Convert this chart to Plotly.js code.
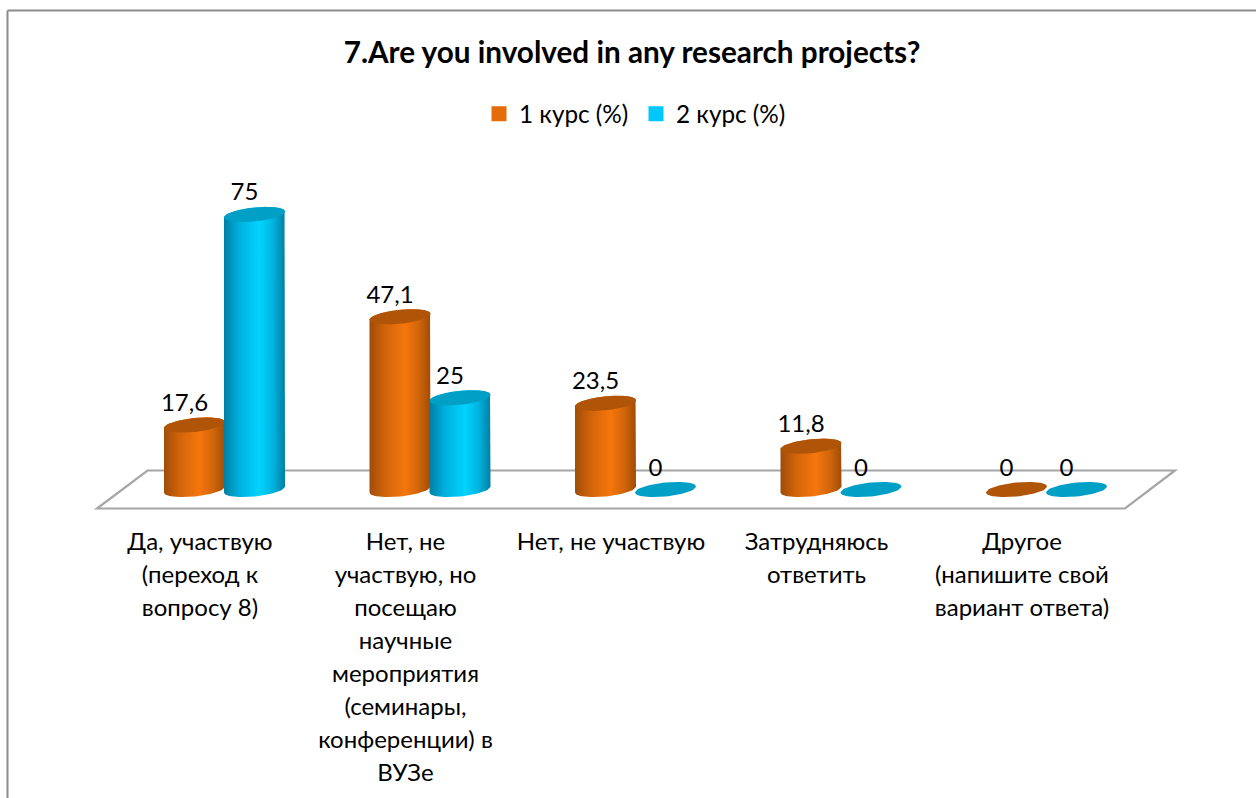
<!DOCTYPE html>
<html>
<head>
<meta charset="utf-8">
<script src="https://cdn.plot.ly/plotly-3.0.1.min.js"></script>
<style>html,body{margin:0;padding:0;background:#fff}#chart{width:1256px;height:798px}</style>
</head>
<body>
<div id="chart"></div>
<script>
const categoryLines = [
  ["Да, участвую", "(переход к", "вопросу 8)"],
  ["Нет, не", "участвую, но", "посещаю", "научные", "мероприятия", "(семинары,", "конференции) в", "ВУЗе"],
  ["Нет, не участвую"],
  ["Затрудняюсь", "ответить"],
  ["Другое", "(напишите свой", "вариант ответа)"]
];
const seriesNames = ["1 курс (%)", "2 курс (%)"];
const course1 = [17.6, 47.1, 23.5, 11.8, 0];
const course2 = [75, 25, 0, 0, 0];
const titleText = "7.Are you involved in any research projects?";

const W = 1256, H = 798, FONT = "Lato, Carlito, 'Open Sans', sans-serif";
const xUnit = 205.5, yUnit = 3.667, x0px = 224.5, y0px = 489.5, plotBottom = 510;
const pxX = p => p / xUnit, pxY = p => p / yUnit;
const rad = 30.5, minor = 7, shear = 3, barOffset = 30;
const styles = [
  {flat:"#E46C0A", top:"#B05508", scale:[[0,"#A04C08"],[0.25,"#D0640A"],[0.58,"#F6760C"],[0.8,"#D2660A"],[1,"#A04C08"]]},
  {flat:"#00C8FF", top:"#00A0C6", scale:[[0,"#007FA3"],[0.25,"#00B0DE"],[0.58,"#00D4FF"],[0.8,"#00B4E0"],[1,"#007FA3"]]}
];

function ellipse(cx, v, from, to, n) {
  const xs = [], ys = [];
  for (let i = 0; i <= n; i++) {
    const t = (from + (to - from) * i / n) * Math.PI / 180;
    xs.push(cx + pxX(rad * Math.cos(t)));
    ys.push(v + pxY(minor * Math.sin(t) + shear * Math.cos(t)));
  }
  return {xs, ys};
}

const traces = [];
const allSeries = [course1, course2];
const xPos = allSeries.map((_, s) => course1.map((_, i) => i + pxX(s === 0 ? -barOffset : barOffset)));

allSeries.forEach((vals, s) => traces.push({
  type: "bar", name: seriesNames[s], x: xPos[s], y: vals, width: pxX(46),
  marker: {color: styles[s].flat, line: {width: 3, color: styles[s].flat}}, hoverinfo: "skip"
}));

allSeries.forEach((vals, s) => vals.forEach((v, i) => {
  const cx = xPos[s][i];
  const low = ellipse(cx, 0, 180, 360, 36);
  const up = ellipse(cx, v, 0, 180, 36);
  if (v > 0) traces.push({
    type: "scatter", mode: "lines", x: low.xs.concat(up.xs), y: low.ys.concat(up.ys),
    fill: "toself", line: {width: 0, color: "rgba(0,0,0,0)"},
    fillgradient: {type: "horizontal", colorscale: styles[s].scale},
    showlegend: false, hoverinfo: "skip", cliponaxis: false
  });
  const cap = ellipse(cx, v, 0, 360, 72);
  traces.push({
    type: "scatter", mode: "lines", x: cap.xs, y: cap.ys, fill: "toself",
    fillcolor: styles[s].top, line: {width: 0, color: styles[s].top},
    showlegend: false, hoverinfo: "skip", cliponaxis: false
  });
}));

allSeries.forEach((vals, s) => traces.push({
  type: "scatter", mode: "text",
  x: xPos[s].map(x => x + pxX(-10)), y: vals.map(v => v + pxY(20)),
  text: vals.map(v => String(v).replace(".", ",")), textposition: "middle center",
  textfont: {family: FONT, size: 24, color: "#000"},
  showlegend: false, hoverinfo: "skip", cliponaxis: false
}));

const floorFront = pxY(y0px - 508.5), floorBack = pxY(y0px - 470.5);
const fx = p => (p - x0px) / xUnit;
const floorPath = "M" + fx(97) + "," + floorFront + "L" + fx(1125) + "," + floorFront +
  "L" + fx(1175) + "," + floorBack + "L" + fx(147.5) + "," + floorBack + "Z";

const paperBottom = (plotBottom - H) / plotBottom;
const layout = {
  width: W, height: H,
  margin: {l: 0, r: 0, t: 0, b: H - plotBottom, autoexpand: false},
  paper_bgcolor: "#fff", plot_bgcolor: "#fff",
  barmode: "overlay", showlegend: true,
  title: {text: "<b>" + titleText + "</b>", x: 632 / W, xanchor: "center", xref: "paper",
          y: 1 - 53 / H, yanchor: "middle", font: {family: FONT, size: 29.7, color: "#000"}},
  legend: {orientation: "h", x: 479 / W, xanchor: "left", y: (plotBottom - 114) / plotBottom, yanchor: "middle",
           entrywidth: 112, entrywidthmode: "pixels",
           font: {family: FONT, size: 24.3, color: "#000"}, bgcolor: "rgba(0,0,0,0)", itemclick: false, itemdoubleclick: false},
  xaxis: {
    range: [fx(0), fx(W)], tickmode: "array", tickvals: categoryLines.map((_, i) => i + pxX(-24.5)),
    ticktext: categoryLines.map(l => l.map(t => '<span style="font-size:24px">' + t + "</span>").join("<br>")),
    tickfont: {family: FONT, size: 25.3, color: "#000"}, ticks: "outside", ticklen: 9, tickcolor: "rgba(0,0,0,0)",
    showgrid: false, zeroline: false, showline: false, fixedrange: true, automargin: false
  },
  yaxis: {range: [pxY(y0px - plotBottom), pxY(y0px)], visible: false, fixedrange: true, automargin: false},
  shapes: [
    {type: "path", xref: "x", yref: "y", layer: "below", path: floorPath, line: {color: "#A6A6A6", width: 2.2}, fillcolor: "#fff"},
    {type: "line", xref: "paper", yref: "paper", x0: 7.5 / W, x1: 7.5 / W, y0: paperBottom, y1: 1 - 10.5 / plotBottom, line: {color: "#8C8C8C", width: 2}},
    {type: "line", xref: "paper", yref: "paper", x0: 7.5 / W, x1: 1, y0: 1 - 10.5 / plotBottom, y1: 1 - 10.5 / plotBottom, line: {color: "#8C8C8C", width: 2}}
  ]
};
Plotly.newPlot("chart", traces, layout, {displayModeBar: false, staticPlot: true});
</script>
</body>
</html>
